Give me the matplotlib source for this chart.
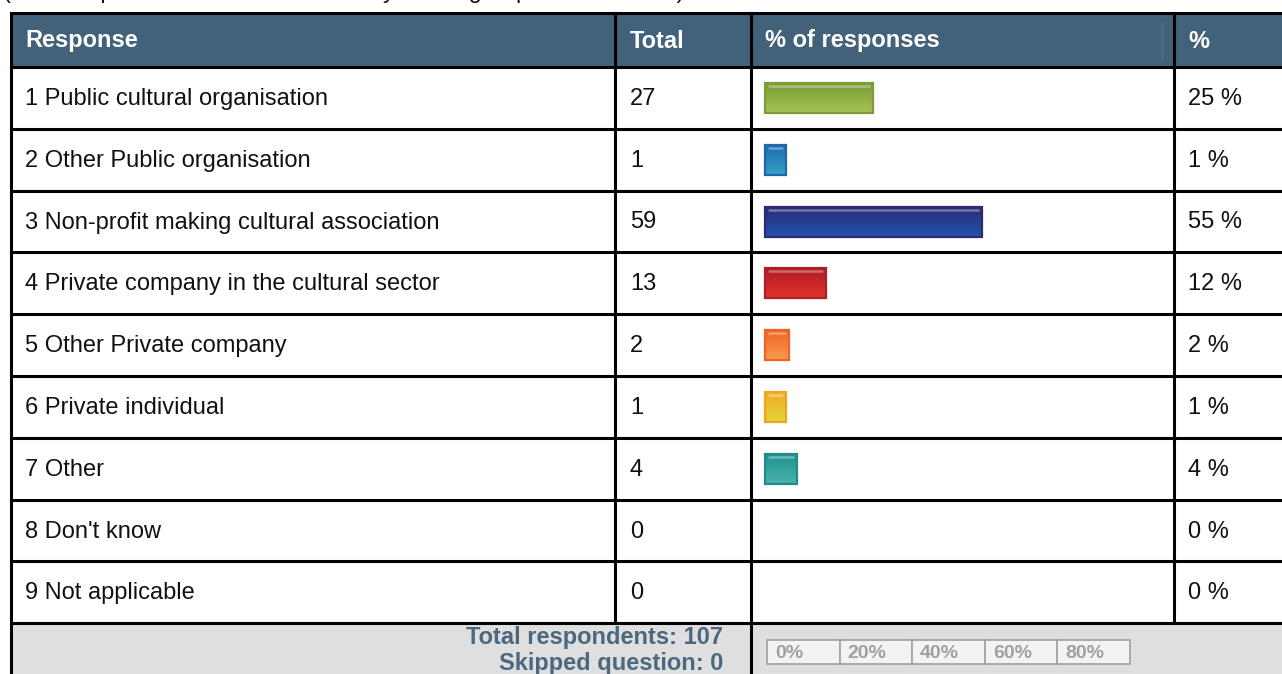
import numpy as np
import matplotlib
matplotlib.use("Agg")
import matplotlib.pyplot as plt
from matplotlib.patches import Rectangle
from matplotlib.colors import to_rgb

plt.rcParams["font.family"] = ["Liberation Sans", "DejaVu Sans"]

# data
responses = ["1 Public cultural organisation", "2 Other Public organisation",
             "3 Non-profit making cultural association",
             "4 Private company in the cultural sector",
             "5 Other Private company", "6 Private individual", "7 Other",
             "8 Don't know", "9 Not applicable"]
totals = [27, 1, 59, 13, 2, 1, 4, 0, 0]
percents = [25, 1, 55, 12, 2, 1, 4, 0, 0]
headers = ["Response", "Total", "% of responses", "%"]
scale_labels = ["0%", "20%", "40%", "60%", "80%"]
total_respondents = 107
skipped = 0

# bar colours: (top, bottom, edge)
bar_colors = [("#7a9a34", "#a8c354", "#7d9b38"),
              ("#1e6aab", "#36a3c9", "#1f66aa"),
              ("#2a2a74", "#2152ab", "#2b2b6e"),
              ("#ae1b22", "#e2332c", "#b01f25"),
              ("#f26626", "#f69a50", "#f06326"),
              ("#f2ae28", "#e2d236", "#eea522"),
              ("#1c938e", "#4cb2ae", "#1f8c88")]

HEAD = "#42617a"
W, H = 1282, 674
fig = plt.figure(figsize=(W / 100, H / 100), dpi=100)
ax = fig.add_axes([0, 0, 1, 1])
ax.set_xlim(0, W)
ax.set_ylim(H, 0)
ax.axis("off")

x_left, x_tot, x_bar, x_pct, x_right = 11, 615, 751, 1174, 1300
y_head, head_h, row_h = 13, 54, 61.8
lw = 2.2
fs = 17

# caption line, cut off at the top edge as in the original page
ax.text(3, -2, "(Total respondents were asked to say which group best fits them)",
        fontsize=fs, va="baseline", ha="left", color="#111")

# header
ax.add_patch(Rectangle((x_left, y_head), x_right - x_left, head_h, fc=HEAD, ec="none"))
ax.plot([1162, 1162], [y_head + 10, y_head + head_h - 8], color="#55728a", lw=1)
for x, h in zip([25, 630, 765, 1188], headers):
    ax.text(x, y_head + head_h / 2 + 1, h, color="white", fontsize=fs,
            fontweight="bold", va="center", ha="left")

y0 = y_head + head_h
n = len(responses)
y_foot = y0 + n * row_h

# rows
scale_px = 3.63   # px per percent
min_px = 17
for i, (lab, t, p) in enumerate(zip(responses, totals, percents)):
    yc = y0 + (i + 0.5) * row_h + 1
    ax.text(25, yc, lab, fontsize=fs, va="center", ha="left", color="#111")
    ax.text(630, yc, str(t), fontsize=fs, va="center", ha="left", color="#111")
    ax.text(1188, yc, f"{p} %", fontsize=fs, va="center", ha="left", color="#111")
    if t > 0:
        top, bot, edge = bar_colors[i]
        bw = min_px + scale_px * p
        bh = 30
        bx, by = 765, yc - 1 - bh / 2
        c1, c2 = np.array(to_rgb(top)), np.array(to_rgb(bot))
        g = np.linspace(0, 1, 40)[:, None, None]
        img = c1 * (1 - g) + c2 * g
        ax.imshow(img, extent=(bx, bx + bw, by + bh, by), aspect="auto",
                  interpolation="bilinear", zorder=2)
        ax.add_patch(Rectangle((bx, by), bw, bh, fc="none", ec=edge, lw=1.6, zorder=3))
        ax.plot([bx + 3, bx + bw - 3], [by + 3, by + 3], color="white",
                alpha=0.35, lw=1.8, zorder=4, solid_capstyle="butt")

# footer
ax.add_patch(Rectangle((x_left, y_foot), x_right - x_left, 80, fc="#dfdfdf", ec="none"))
ax.text(723, y_foot + 14, f"Total respondents: {total_respondents}", fontsize=fs,
        fontweight="bold", color="#4b6880", ha="right", va="center")
ax.text(723, y_foot + 40, f"Skipped question: {skipped}", fontsize=fs,
        fontweight="bold", color="#4b6880", ha="right", va="center")
sx, sw, sy, sh = 767, 72.6, 640, 24
for k, s in enumerate(scale_labels):
    ax.add_patch(Rectangle((sx + k * sw, sy), sw, sh, fc="#f3f3f3", ec="#a5a5a5", lw=1.3))
    ax.text(sx + k * sw + 8, sy + sh / 2 + 1, s, fontsize=14, fontweight="bold",
            color="#a0a0a0", ha="left", va="center")

# grid lines
ys = [y_head] + [y0 + k * row_h for k in range(n + 1)]
for y in ys:
    ax.plot([x_left, x_right], [y, y], color="black", lw=lw, solid_capstyle="butt")
ax.plot([x_left, x_left], [y_head, H], color="black", lw=lw)
for x in [x_tot, x_pct]:
    ax.plot([x, x], [y_head, y_foot], color="black", lw=lw)
ax.plot([x_bar, x_bar], [y_head, H], color="black", lw=lw)

fig.savefig("out.png", dpi=100)
